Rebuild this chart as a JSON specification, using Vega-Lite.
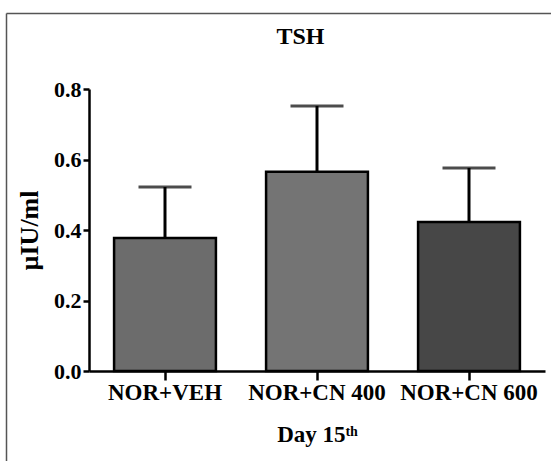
{
  "$schema": "https://vega.github.io/schema/vega-lite/v6.json",
  "autosize": "none",
  "padding": {"left": 6, "top": 13, "right": 0, "bottom": 0},
  "width": 545,
  "height": 448,
  "background": "white",
  "title": {
    "text": "TSH",
    "font": "Liberation Serif",
    "fontSize": 24,
    "fontWeight": "bold",
    "color": "black",
    "anchor": "middle",
    "baseline": "alphabetic",
    "offset": -34,
    "dx": 22,
    "dy": 21
  },
  "data": {
    "values": [
      {"group": "NOR+VEH", "mean": 0.377, "upper": 0.522},
      {"group": "NOR+CN 400", "mean": 0.565, "upper": 0.752},
      {"group": "NOR+CN 600", "mean": 0.423, "upper": 0.576}
    ]
  },
  "layer": [
    {
      "encoding": {
        "x": {
          "field": "group",
          "type": "nominal",
          "sort": null,
          "scale": {"type": "band", "range": [83, 539], "paddingInner": 0.33, "paddingOuter": 0.165},
          "axis": {
            "orient": "bottom",
            "offset": -90,
            "title": "Day 15ᵗʰ",
            "titleFont": "Liberation Serif",
            "titleFontSize": 23,
            "titleFontWeight": "bold",
            "titleColor": "black",
            "titlePadding": 19,
            "labelFont": "Liberation Serif",
            "labelFontSize": 23,
            "labelFontWeight": "bold",
            "labelColor": "black",
            "labelAngle": 0,
            "labelPadding": 1,
            "tickSize": 9,
            "tickWidth": 2.5,
            "tickColor": "black",
            "domainColor": "black",
            "domainWidth": 2.5,
            "grid": false
          }
        }
      },
      "layer": [
        {
          "mark": {"type": "bar", "stroke": "black", "strokeWidth": 2.5},
          "encoding": {
            "y": {
              "field": "mean",
              "type": "quantitative",
              "scale": {"domain": [0, 0.8], "range": [358, 76], "nice": false},
              "axis": {
                "orient": "left",
                "offset": -83,
                "values": [0, 0.2, 0.4, 0.6, 0.8],
                "format": ".1f",
                "title": "µIU/ml",
                "titleFont": "Liberation Serif",
                "titleFontSize": 26,
                "titleFontWeight": "bold",
                "titleColor": "black",
                "titlePadding": 11,
                "labelFont": "Liberation Serif",
                "labelFontSize": 22,
                "labelFontWeight": "bold",
                "labelColor": "black",
                "labelPadding": 2,
                "labelOverlap": false,
                "tickSize": 6,
                "tickWidth": 2.5,
                "tickColor": "black",
                "domainColor": "black",
                "domainWidth": 2.5,
                "grid": false
              }
            },
            "color": {
              "field": "group",
              "type": "nominal",
              "scale": {"domain": ["NOR+VEH", "NOR+CN 400", "NOR+CN 600"], "range": ["#6c6c6c", "#747474", "#474747"]},
              "legend": null
            }
          }
        },
        {
          "mark": {"type": "rule", "color": "black", "strokeWidth": 3},
          "encoding": {
            "y": {"field": "mean", "type": "quantitative"},
            "y2": {"field": "upper"}
          }
        },
        {
          "mark": {"type": "tick", "color": "black", "size": 53, "thickness": 3},
          "encoding": {
            "y": {"field": "upper", "type": "quantitative"}
          }
        }
      ]
    },
    {
      "mark": {"type": "point", "opacity": 0},
      "encoding": {
        "x": {
          "field": "mean",
          "type": "quantitative",
          "scale": {"domain": [0, 1], "nice": false, "zero": false},
          "axis": {"orient": "top", "offset": 0, "labels": false, "ticks": false, "title": null, "grid": false, "domainColor": "#555555", "domainWidth": 1.5}
        },
        "y": {
          "field": "mean",
          "type": "quantitative",
          "scale": {"domain": [0, 1], "nice": false, "zero": false},
          "axis": {"orient": "left", "offset": 0, "labels": false, "ticks": false, "title": null, "grid": false, "domainColor": "#555555", "domainWidth": 1.5}
        }
      }
    }
  ],
  "resolve": {
    "scale": {"x": "independent", "y": "independent"},
    "axis": {"x": "independent", "y": "independent"}
  },
  "config": {
    "view": {"stroke": null}
  }
}
